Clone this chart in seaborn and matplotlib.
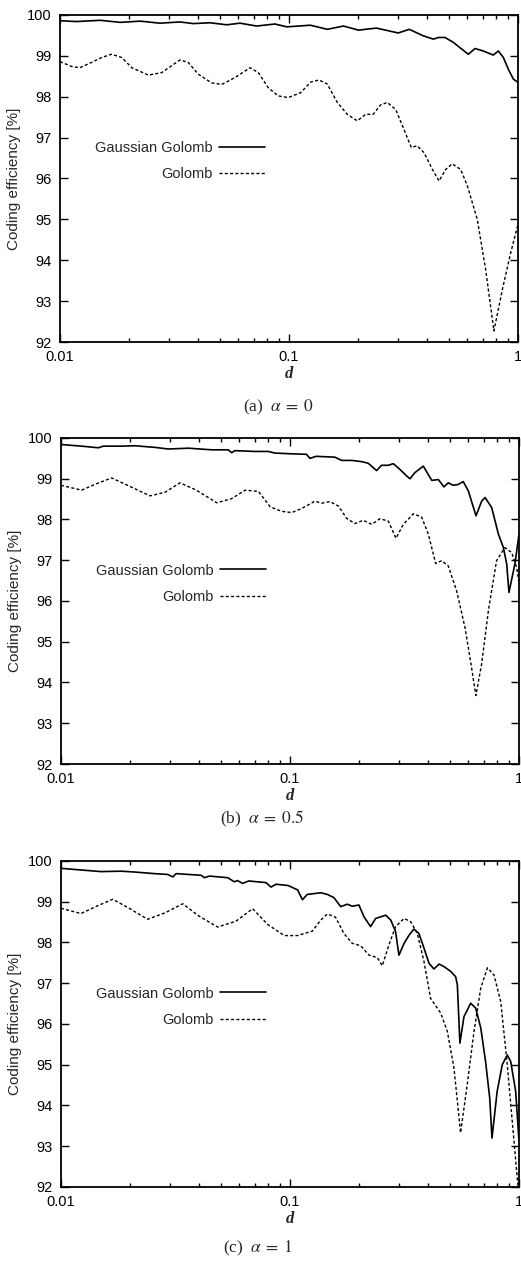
import numpy as np
import pandas as pd
import seaborn as sns
import matplotlib.pyplot as plt
from matplotlib.ticker import LogLocator, NullFormatter

# ---- panel (a) alpha = 0 ----
d_a_gg = [0.01, 0.0118, 0.0150, 0.0183, 0.0224, 0.0273, 0.0334, 0.0382, 0.0452, 0.0535,
          0.0611, 0.0722, 0.0869, 0.0977, 0.110, 0.124, 0.147, 0.173, 0.201, 0.241,
          0.300, 0.335, 0.386, 0.427, 0.449, 0.480, 0.522, 0.558, 0.607, 0.649,
          0.705, 0.780, 0.821, 0.863, 0.908, 0.955, 1.0]
eff_a_gg = [99.86, 99.84, 99.87, 99.82, 99.85, 99.80, 99.83, 99.79, 99.81, 99.76,
            99.80, 99.73, 99.78, 99.71, 99.73, 99.75, 99.65, 99.73, 99.63, 99.68,
            99.56, 99.65, 99.49, 99.41, 99.45, 99.45, 99.33, 99.20, 99.04, 99.18,
            99.12, 99.02, 99.12, 98.96, 98.67, 98.43, 98.35]

d_a_g = [0.01, 0.01125, 0.0122, 0.01374, 0.0152, 0.0168, 0.0186, 0.0206, 0.0243, 0.0278,
         0.0334, 0.0363, 0.0402, 0.0459, 0.0508, 0.0581, 0.0676, 0.0735, 0.0812, 0.0898,
         0.0993, 0.1124, 0.1244, 0.1353, 0.147, 0.1626, 0.1797, 0.1987, 0.216, 0.2333,
         0.251, 0.2687, 0.2922, 0.3177, 0.342, 0.363, 0.389, 0.423, 0.452, 0.483,
         0.516, 0.562, 0.601, 0.664, 0.722, 0.785, 0.855, 0.929, 1.0]
eff_a_g = [98.86, 98.74, 98.71, 98.84, 98.96, 99.04, 98.96, 98.71, 98.53, 98.59,
           98.90, 98.84, 98.55, 98.34, 98.30, 98.47, 98.71, 98.59, 98.22, 98.02,
           97.98, 98.10, 98.36, 98.41, 98.31, 97.86, 97.57, 97.41, 97.57, 97.57,
           97.80, 97.86, 97.69, 97.20, 96.76, 96.80, 96.63, 96.22, 95.94, 96.22,
           96.36, 96.22, 95.82, 95.00, 93.78, 92.27, 93.29, 94.18, 94.88]

# ---- panel (b) alpha = 0.5 ----
d_b_gg = [0.01, 0.0123, 0.01455, 0.0153, 0.0184, 0.021, 0.0257, 0.0294, 0.036, 0.0455,
          0.0538, 0.0556, 0.0575, 0.0703, 0.0804, 0.086, 0.1035, 0.118, 0.1222, 0.13,
          0.157, 0.168, 0.186, 0.2055, 0.2197, 0.2388, 0.251, 0.2687, 0.2825, 0.302,
          0.323, 0.334, 0.351, 0.382, 0.416, 0.4446, 0.470, 0.491, 0.516, 0.543,
          0.571, 0.601, 0.649, 0.687, 0.711, 0.760, 0.813, 0.855, 0.884, 0.904,
          0.962, 1.0]
eff_b_gg = [99.84, 99.80, 99.76, 99.80, 99.80, 99.81, 99.77, 99.73, 99.75, 99.71,
            99.71, 99.64, 99.69, 99.67, 99.67, 99.63, 99.61, 99.60, 99.50, 99.55,
            99.53, 99.45, 99.45, 99.42, 99.38, 99.20, 99.33, 99.33, 99.37, 99.23,
            99.07, 99.00, 99.15, 99.31, 98.96, 98.98, 98.80, 98.90, 98.84, 98.86,
            98.93, 98.70, 98.09, 98.45, 98.54, 98.29, 97.64, 97.31, 96.90, 96.21,
            96.94, 97.64]

d_b_g = [0.01, 0.0123, 0.0143, 0.01664, 0.0195, 0.0245, 0.0285, 0.0331, 0.039, 0.0479,
         0.0555, 0.0637, 0.0728, 0.082, 0.092, 0.1017, 0.1124, 0.1285, 0.1375, 0.1495,
         0.1626, 0.1767, 0.192, 0.209, 0.2274, 0.247, 0.2687, 0.2902, 0.3126, 0.3457,
         0.3758, 0.4018, 0.4326, 0.4594, 0.491, 0.534, 0.581, 0.617, 0.648, 0.687,
         0.735, 0.798, 0.868, 0.929, 0.977, 1.0]
eff_b_g = [98.84, 98.72, 98.88, 99.02, 98.84, 98.58, 98.67, 98.90, 98.72, 98.41,
           98.51, 98.72, 98.69, 98.31, 98.20, 98.17, 98.27, 98.45, 98.40, 98.44,
           98.33, 98.03, 97.90, 97.98, 97.88, 98.02, 97.96, 97.54, 97.88, 98.14,
           98.06, 97.64, 96.92, 96.99, 96.86, 96.25, 95.35, 94.46, 93.68, 94.46,
           95.76, 96.99, 97.31, 97.19, 96.82, 96.45]

# ---- panel (c) alpha = 1 ----
d_c_gg = [0.01, 0.01222, 0.01496, 0.0183, 0.0209, 0.0256, 0.0292, 0.0308, 0.0318, 0.0409,
          0.0423, 0.0445, 0.0535, 0.0571, 0.0590, 0.0621, 0.0660, 0.0786, 0.0826, 0.0870,
          0.0977, 0.1007, 0.108, 0.1133, 0.119, 0.1274, 0.1362, 0.1456, 0.1556, 0.1665,
          0.178, 0.187, 0.200, 0.2104, 0.2249, 0.2366, 0.249, 0.2618, 0.2754, 0.289,
          0.299, 0.315, 0.331, 0.3477, 0.3656, 0.3848, 0.4045, 0.4253, 0.4477, 0.470,
          0.5035, 0.5289, 0.538, 0.552, 0.575, 0.615, 0.647, 0.681, 0.7145, 0.745,
          0.762, 0.803, 0.845, 0.889, 0.920, 0.967, 1.0]
eff_c_gg = [99.82, 99.78, 99.74, 99.75, 99.73, 99.69, 99.67, 99.61, 99.69, 99.65,
            99.59, 99.63, 99.59, 99.49, 99.52, 99.45, 99.51, 99.47, 99.36, 99.43,
            99.40, 99.37, 99.29, 99.05, 99.18, 99.20, 99.22, 99.18, 99.10, 98.88,
            98.94, 98.89, 98.92, 98.63, 98.39, 98.59, 98.63, 98.67, 98.55, 98.27,
            97.69, 97.98, 98.18, 98.33, 98.22, 97.86, 97.49, 97.35, 97.47, 97.41,
            97.29, 97.16, 96.96, 95.53, 96.18, 96.51, 96.39, 95.90, 95.08, 94.18,
            93.20, 94.35, 95.00, 95.24, 95.08, 94.35, 93.12]

d_c_g = [0.01, 0.01222, 0.0143, 0.01683, 0.0197, 0.0239, 0.0285, 0.034, 0.040, 0.0483,
         0.058, 0.0687, 0.080, 0.0944, 0.1076, 0.1252, 0.1362, 0.1456, 0.158, 0.172,
         0.187, 0.2035, 0.2213, 0.2406, 0.253, 0.2704, 0.289, 0.315, 0.3365, 0.3598,
         0.3848, 0.411, 0.455, 0.4864, 0.520, 0.5558, 0.594, 0.6362, 0.6806, 0.728,
         0.778, 0.832, 0.889, 0.951, 0.991, 1.0]
eff_c_g = [98.84, 98.71, 98.89, 99.06, 98.85, 98.57, 98.73, 98.95, 98.65, 98.38,
           98.52, 98.83, 98.44, 98.17, 98.17, 98.28, 98.55, 98.70, 98.62, 98.22,
           97.98, 97.92, 97.69, 97.63, 97.43, 97.94, 98.39, 98.59, 98.51, 98.22,
           97.53, 96.63, 96.27, 95.82, 94.92, 93.33, 94.51, 95.82, 96.88, 97.38,
           97.20, 96.55, 95.00, 93.12, 91.98, 91.70]

captions = ['(a) $\\;\\alpha\\;=\\;0$', '(b) $\\;\\alpha\\;=\\;0.5$', '(c) $\\;\\alpha\\;=\\;1$']
series_labels = ['Gaussian Golomb', 'Golomb']
y_ticks = [92, 93, 94, 95, 96, 97, 98, 99, 100]
x_ticks = [0.01, 0.1, 1]
x_ticklabels = ['0.01', '0.1', '1']

sns.set_style("ticks")
plt.rcParams['font.family'] = ['Liberation Sans', 'DejaVu Sans']
plt.rcParams['mathtext.fontset'] = 'stix'

W, H = 521, 1261
fig = plt.figure(figsize=(W / 100, H / 100), dpi=100)

# axes boxes in pixels: left, top, right, bottom
boxes = [(60, 15, 518, 342), (61, 438, 519, 764), (61, 861, 519, 1187)]
cap_pos = [(278, 407), (262, 819), (258, 1248)]
data = [(d_a_gg, eff_a_gg, d_a_g, eff_a_g),
        (d_b_gg, eff_b_gg, d_b_g, eff_b_g),
        (d_c_gg, eff_c_gg, d_c_g, eff_c_g)]

for (l, t, r, b), (dg, eg, dd, ed), cap, (cx, cy) in zip(boxes, data, captions, cap_pos):
    ax = fig.add_axes([l / W, 1 - b / H, (r - l) / W, (b - t) / H])
    df_gg = pd.DataFrame({'d': dg, 'eff': eg})
    df_g = pd.DataFrame({'d': dd, 'eff': ed})
    sns.lineplot(data=df_gg, x='d', y='eff', ax=ax, color='black', lw=1.2,
                 estimator=None, label=series_labels[0])
    sns.lineplot(data=df_g, x='d', y='eff', ax=ax, color='black', lw=1.0,
                 linestyle=(0, (2.2, 1.6)), estimator=None, label=series_labels[1])
    ax.set_xscale('log')
    ax.set_xlim(0.01, 1)
    ax.set_ylim(92, 100)
    ax.set_xticks(x_ticks)
    ax.set_xticklabels(x_ticklabels)
    ax.set_yticks(y_ticks)
    ax.xaxis.set_minor_locator(LogLocator(base=10, subs=np.arange(2, 10)))
    ax.xaxis.set_minor_formatter(NullFormatter())
    ax.tick_params(which='both', direction='in', top=True, right=True,
                   labelsize=10.5, width=1, colors='black')
    ax.tick_params(which='major', length=6, pad=6)
    ax.tick_params(which='minor', length=3)
    ax.set_xlabel('d', fontfamily='Liberation Serif', fontstyle='italic',
                  fontweight='bold', fontsize=12, labelpad=1)
    ax.set_ylabel('Coding efficiency [%]', fontsize=11, labelpad=4)
    for s in ax.spines.values():
        s.set_linewidth(1.3)
        s.set_color('black')
    ax.legend(loc='upper right', bbox_to_anchor=(0.448, 0.615), markerfirst=False,
              frameon=False, fontsize=10.5, handlelength=3.2, handletextpad=0.4,
              labelspacing=0.85, borderpad=0, borderaxespad=0)
    fig.text(cx / W, 1 - cy / H, cap, ha='center', va='center',
             fontfamily='Liberation Serif', fontsize=12.5)

fig.savefig('out.png', dpi=100)
